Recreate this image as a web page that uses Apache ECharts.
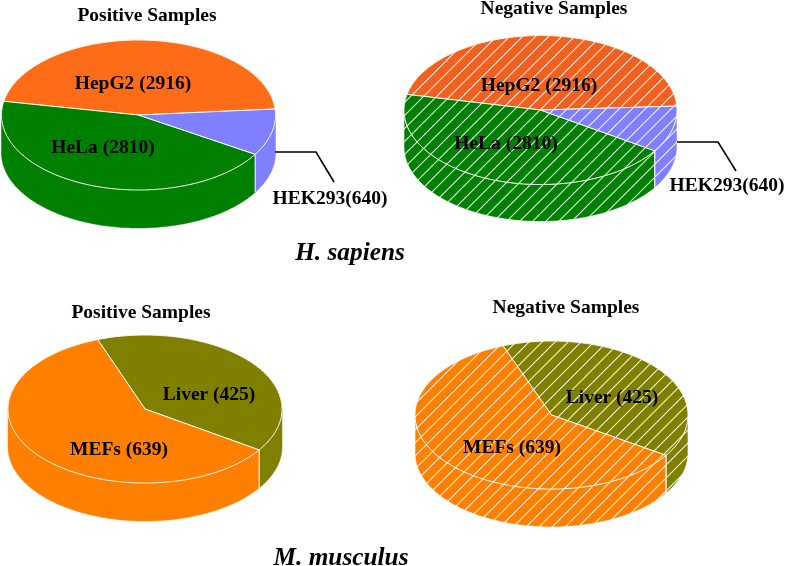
<!DOCTYPE html>
<html><head><meta charset="utf-8">
<style>html,body{margin:0;padding:0;background:#fff}#c{width:787px;height:566px}</style>
<script src="https://cdn.jsdelivr.net/npm/echarts@6/dist/echarts.min.js"></script></head>
<body><div id="c"></div>
<script>
var humanCategories = ['HepG2', 'HeLa', 'HEK293'];
var humanValues = [2916, 2810, 640];
var humanLabels = ['HepG2 (2916)', 'HeLa (2810)', 'HEK293(640)'];
var humanColors = ['#FF6C18', '#008000', '#8080FF'];
var humanColorsNeg = ['#F26020', '#008000', '#8080FF'];
var mouseCategories = ['Liver', 'MEFs'];
var mouseValues = [425, 639];
var mouseLabels = ['Liver (425)', 'MEFs (639)'];
var mouseColors = ['#808000', '#FF8000'];
var panelTitles = ['Positive Samples', 'Negative Samples', 'Positive Samples', 'Negative Samples'];
var speciesNames = ['H. sapiens', 'M. musculus'];

var FONT = '"Liberation Serif","Times New Roman",serif';

function hatch(color) {
  var n = 13, s = 2, cv = document.createElement('canvas');
  cv.width = cv.height = n * s;
  var g = cv.getContext('2d');
  g.fillStyle = color; g.fillRect(0, 0, n * s, n * s);
  g.strokeStyle = 'rgba(255,255,255,0.92)'; g.lineWidth = 1.0 * s;
  [[-n * s, n * s, n * s, -n * s], [0, n * s, n * s, 0], [0, 2 * n * s, 2 * n * s, 0]].forEach(function (l) {
    g.beginPath(); g.moveTo(l[0], l[1]); g.lineTo(l[2], l[3]); g.stroke();
  });
  return { image: cv, repeat: 'repeat', scaleX: 1 / s, scaleY: 1 / s };
}

function pieSeries(cfg) {
  var total = cfg.values.reduce(function (a, b) { return a + b; }, 0);
  var rad = Math.PI / 180;
  function P(a, dz) {
    return [cfg.cx + cfg.rx * Math.cos(a * rad), cfg.cy - cfg.ry * Math.sin(a * rad) + (dz || 0)];
  }
  function fill(i) { return cfg.hatched ? hatch(cfg.colors[i]) : cfg.colors[i]; }
  var slices = [], a0 = cfg.start;
  cfg.values.forEach(function (v, i) {
    var a1 = a0 + v / total * 360;
    slices.push({ i: i, a0: a0, a1: a1 }); a0 = a1;
  });
  return {
    type: 'custom', coordinateSystem: 'none', silent: true, animation: false,
    data: [0],
    renderItem: function () {
      var ch = [];
      slices.forEach(function (s) {
        [-360, 0, 360].forEach(function (off) {
          var lo = Math.max(s.a0 + off, 180), hi = Math.min(s.a1 + off, 360);
          if (hi <= lo) return;
          var top = [], bot = [];
          for (var a = lo; a < hi; a += 1) { top.push(P(a)); bot.unshift(P(a, cfg.depth)); }
          top.push(P(hi)); bot.unshift(P(hi, cfg.depth));
          ch.push({ type: 'polygon', shape: { points: top.concat(bot) },
            style: { fill: fill(s.i), stroke: cfg.hatched ? '#fff' : cfg.colors[s.i], lineWidth: cfg.hatched ? 0.6 : 0.5 } });
        });
      });
      slices.forEach(function (s) {
        var pts = [[cfg.cx, cfg.cy]];
        for (var a = s.a0; a < s.a1; a += 1) pts.push(P(a));
        pts.push(P(s.a1));
        ch.push({ type: 'polygon', shape: { points: pts },
          style: { fill: fill(s.i), stroke: '#F8F8F0', lineWidth: 1 } });
      });
      slices.forEach(function (s) {
        var a = ((s.a1 % 360) + 360) % 360;
        if (a > 180) {
          var p = P(a);
          ch.push({ type: 'line', shape: { x1: p[0], y1: p[1], x2: p[0], y2: p[1] + cfg.depth },
            style: { stroke: '#F8F8F0', lineWidth: 1 } });
        }
      });
      if (cfg.leader) ch.push({ type: 'polyline', shape: { points: cfg.leader },
        style: { stroke: '#000', lineWidth: 1.6, fill: null } });
      cfg.labelPos.forEach(function (lp, i) {
        ch.push({ type: 'text', x: lp[0], y: lp[1], style: {
          text: cfg.labels[i], font: 'bold 19.5px ' + FONT, fill: '#000', align: 'center', verticalAlign: 'middle' } });
      });
      return { type: 'group', children: ch };
    }
  };
}

var chart = echarts.init(document.getElementById('c'), null, { renderer: 'canvas' });
chart.setOption({
  backgroundColor: '#fff', animation: false,
  title: [
    [147, 16, panelTitles[0], 19.5, 'normal'], [554, 9, panelTitles[1], 19.5, 'normal'],
    [141, 313, panelTitles[2], 19.5, 'normal'], [566, 308, panelTitles[3], 19.5, 'normal'],
    [350, 253, speciesNames[0], 25.3, 'italic'], [341, 558, speciesNames[1], 25.3, 'italic']
  ].map(function (t) {
    return { text: t[2], left: t[0], top: t[1], textAlign: 'center', textVerticalAlign: 'middle', padding: 0,
      textStyle: { fontFamily: FONT, fontWeight: 'bold', fontStyle: t[4], fontSize: t[3], color: '#000' } };
  }),
  series: [
    pieSeries({ values: humanValues, labels: humanLabels, colors: humanColors, hatched: false,
      cx: 138.5, cy: 115, rx: 137, ry: 75, depth: 38, start: 4.6,
      labelPos: [[133, 84], [103, 148], [330, 199]], leader: [[275, 152], [316, 152], [334, 182]] }),
    pieSeries({ values: humanValues, labels: humanLabels, colors: humanColorsNeg, hatched: true,
      cx: 540.5, cy: 110, rx: 136.5, ry: 74.5, depth: 37, start: 3,
      labelPos: [[539, 86], [506, 144], [727, 186]], leader: [[677, 142], [718, 142], [736, 171]] }),
    pieSeries({ values: mouseValues, labels: mouseLabels, colors: mouseColors, hatched: false,
      cx: 145, cy: 409, rx: 137, ry: 74, depth: 38, start: -33.6,
      labelPos: [[209, 395], [119, 450]] }),
    pieSeries({ values: mouseValues, labels: mouseLabels, colors: mouseColors, hatched: true,
      cx: 551.5, cy: 415, rx: 136.5, ry: 74, depth: 38, start: -33,
      labelPos: [[612, 398], [512, 448]] })
  ]
});
</script></body></html>
